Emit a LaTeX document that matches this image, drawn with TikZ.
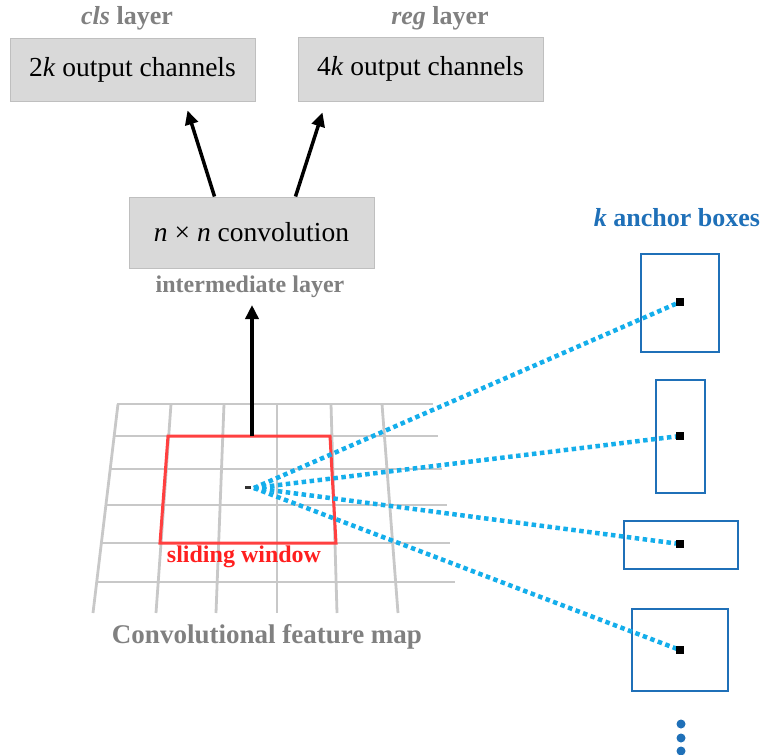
\documentclass[tikz,border=0pt]{standalone}
\usepackage{fontspec}
\setmainfont{Liberation Serif}
\usetikzlibrary{arrows.meta}
\definecolor{boxfill}{HTML}{D9D9D9}
\definecolor{boxline}{HTML}{BFBFBF}
\definecolor{greytxt}{HTML}{808080}
\definecolor{gridc}{HTML}{C8C8C8}
\definecolor{winred}{HTML}{FF4040}
\definecolor{txtred}{HTML}{FF1F1F}
\definecolor{ablue}{HTML}{1F70B8}
\definecolor{dotc}{HTML}{14AEEB}
\begin{document}
\begin{tikzpicture}[x=1pt,y=-1pt,
 graybox/.style={draw=boxline,line width=1pt,fill=boxfill,inner sep=0pt,minimum width=245pt,font=\fontsize{27.5}{31}\selectfont},
 title/.style={text=greytxt,font=\bfseries\fontsize{26}{30}\selectfont,inner sep=0pt},
 arr/.style={line width=3.5pt,-{Triangle[length=14pt,width=13pt]}},
 gridline/.style={gridc,line width=2.8pt},
 anchorbox/.style={draw=ablue,line width=2.8pt,inner sep=0pt},
 ray/.style={dotc,line width=4.5pt,dash pattern=on 4.5pt off 3.5pt},
 ctr/.style={fill=black,minimum size=7pt,inner sep=0pt}
]
\useasboundingbox (0,0) rectangle (769,755);

% top boxes
\node[graybox,minimum height=63pt] (cls) at (132.5,69.5) {2\textit{k} output channels};
\node[graybox,minimum height=64pt] (reg) at (420.5,69) {4\textit{k} output channels};
\node[title] (clst) at (127,18) {\textit{cls} layer};
\node[title] (regt) at (440,18) {\textit{reg} layer};

% conv box
\node[graybox,minimum height=71pt] (conv) at (251.5,232.5) {\textit{n} × \textit{n} convolution};
\node[text=greytxt,font=\bfseries\fontsize{24}{28}\selectfont,inner sep=0pt] (inter) at (250,287) {intermediate layer};

\draw[arr] ([xshift=86pt]conv.north west) -- ([xshift=178pt,yshift=-9pt]cls.south west);
\draw[arr] ([xshift=167pt]conv.north west) -- ([xshift=25pt,yshift=-11pt]reg.south west);

% grid
\foreach \yy/\xl/\xr in {404/117/433, 436/114/438, 469/110/442, 505/106/447, 543/101/450, 582/97/455}
  \draw[gridline] (\xl,\yy) -- (\xr,\yy);
\foreach \xt/\xb in {118/93, 171/156, 224/216, 277/277, 331/337, 382/398}
  \draw[gridline] (\xt,404) -- (\xb,613);

% sliding window
\draw[winred,line width=3pt] (168,436) -- (330,436) -- (336,543) -- (160,543) -- cycle;
\coordinate (wtop) at (252,436);
\coordinate (vtip) at (252,305);
\draw[arr] (wtop) -- (vtip);

\node[text=txtred,font=\bfseries\fontsize{24}{28}\selectfont,inner sep=0pt] (swl) at (244,557) {sliding window};
\node[text=greytxt,font=\bfseries\fontsize{27}{31}\selectfont,inner sep=0pt] (cfm) at (267,637) {Convolutional feature map};

% anchor boxes
\node[text=ablue,font=\bfseries\fontsize{26}{30}\selectfont,inner sep=0pt] (kab) at (677,218) {\textit{k} anchor boxes};
\node[anchorbox,minimum width=78pt,minimum height=98pt] (a1) at (680,303) {};
\node[anchorbox,minimum width=49pt,minimum height=113pt] (a2) at (680.5,436.5) {};
\node[anchorbox,minimum width=114pt,minimum height=48pt] (a3) at (681,545) {};
\node[anchorbox,minimum width=96pt,minimum height=82pt] (a4) at (680,650) {};

\coordinate (src) at (254,488);
\node[ctr] (c1) at (680,302) {};
\node[ctr] (c2) at (680,436) {};
\node[ctr] (c3) at (680,544) {};
\node[ctr] (c4) at (680,650) {};
\foreach \c in {c1,c2,c3,c4}
  \draw[ray] (src) -- (\c.center);
\foreach \c in {c1,c2,c3,c4}
  \fill[black] (\c.south west) rectangle (\c.north east);

\node[fill=black!80,minimum width=6pt,minimum height=3pt,inner sep=0pt] (mark) at (248,487.5) {};

\fill[ablue] (681,724) circle (4.5pt);
\fill[ablue] (681,738) circle (4.5pt);
\fill[ablue] (681,751) circle (4.5pt);
\end{tikzpicture}
\end{document}
